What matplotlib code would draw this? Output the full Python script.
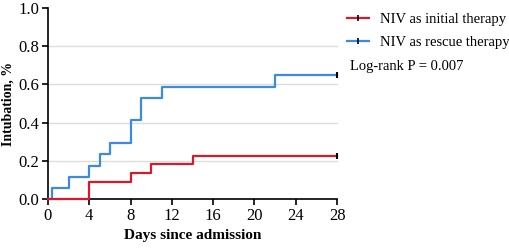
import matplotlib.pyplot as plt
from matplotlib.lines import Line2D

plt.rcParams['font.family'] = ['Liberation Serif', 'DejaVu Serif']

# step data (time, cumulative incidence)
initial_t = [0, 4, 8, 10, 14, 28]
initial_y = [0.0, 0.091, 0.136, 0.182, 0.227, 0.227]
rescue_t = [0, 0.4, 2, 4, 5, 6, 8, 9, 11, 22, 28]
rescue_y = [0.0, 0.059, 0.118, 0.176, 0.235, 0.294, 0.412, 0.529, 0.588, 0.647, 0.647]

labels = ['NIV as initial therapy', 'NIV as rescue therapy']
colors = ['#d7192d', '#3d8ae3']
x_ticks = [0, 4, 8, 12, 16, 20, 24, 28]
y_ticks = [0.0, 0.2, 0.4, 0.6, 0.8, 1.0]

fig = plt.figure(figsize=(5.10, 2.49), dpi=100)
ax = fig.add_axes([0.094, 0.2, 0.567, 0.768])

for yv in y_ticks[1:-1]:
    ax.axhline(yv, color='#dcdcdc', lw=1.0, zorder=0)

ax.step(rescue_t, rescue_y, where='post', color=colors[1], lw=1.6, zorder=3)
ax.step(initial_t, initial_y, where='post', color=colors[0], lw=1.6, zorder=3)
# censor marks at the end
ax.plot([rescue_t[-1]], [rescue_y[-1]], marker='|', color='black', ms=5, mew=1.5, zorder=4)
ax.plot([initial_t[-1]], [initial_y[-1]], marker='|', color='black', ms=5, mew=1.5, zorder=4)

ax.set_xlim(0, 28)
ax.set_ylim(0, 1.0)
ax.set_xticks(x_ticks)
ax.set_yticks(y_ticks)
ax.set_yticklabels([f'{v:.1f}' for v in y_ticks])
ax.spines['top'].set_visible(False)
ax.spines['right'].set_visible(False)
ax.spines['left'].set_linewidth(1.2)
ax.spines['bottom'].set_linewidth(1.2)
ax.tick_params(direction='out', length=4, width=1.2, labelsize=12, pad=2)
for ln in ax.lines:
    ln.set_clip_on(False)

ax.set_xlabel('Days since admission', fontsize=11, fontweight='bold', labelpad=4)
ax.set_ylabel('Intubation, %', fontsize=10, fontweight='bold', labelpad=3)

handles = [Line2D([0], [0], color=c, lw=1.6, marker='|', mec='black', ms=5, mew=1.2) for c in colors]
leg = fig.legend(handles, labels, loc='upper left', bbox_to_anchor=(0.66, 0.99),
                 frameon=False, fontsize=10.5, handlelength=1.5, labelspacing=0.7,
                 handletextpad=0.75, borderaxespad=0.3)
fig.text(0.686, 0.72, 'Log-rank P = 0.007', fontsize=10.5)

fig.savefig('out.png', dpi=100)
